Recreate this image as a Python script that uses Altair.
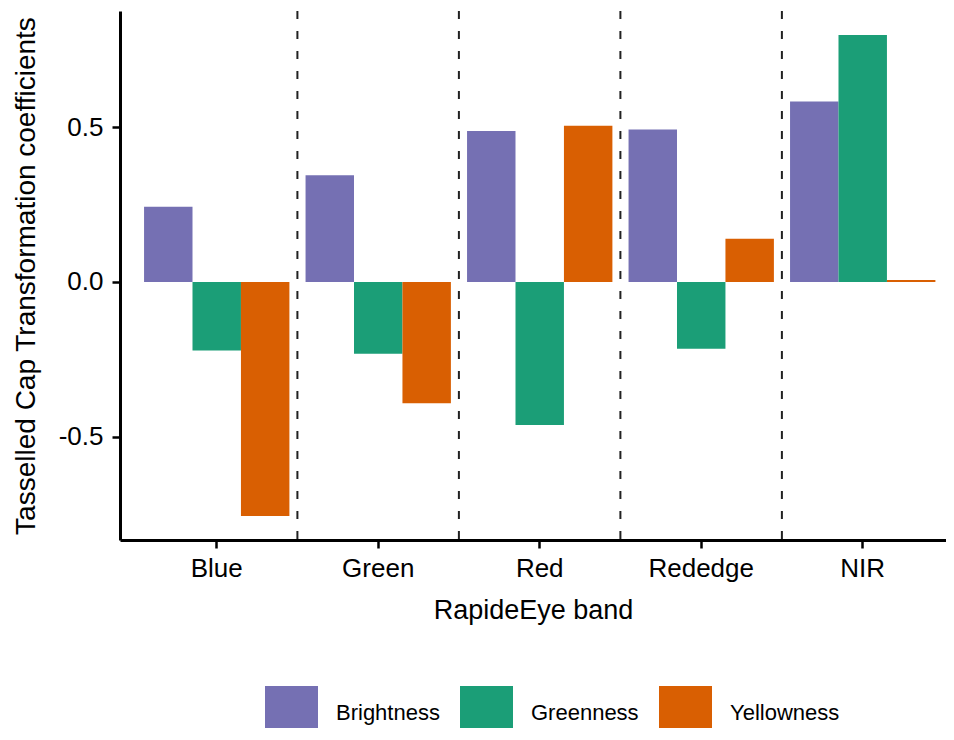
import altair as alt
import pandas as pd

bands = ["Blue", "Green", "Red", "Rededge", "NIR"]
components = ["Brightness", "Greenness", "Yellowness"]
brightness = [0.2435, 0.3448, 0.4881, 0.4930, 0.5835]
greenness = [-0.2216, -0.2319, -0.4622, -0.2154, 0.7981]
yellowness = [-0.7564, -0.3916, 0.5049, 0.1400, 0.0064]
colors = ["#7570B3", "#1B9E77", "#D95F02"]
y_ticks = [-0.5, 0.0, 0.5]
boundary_bands = ["Blue", "Green", "Red", "Rededge"]

rows = []
for comp, vals in zip(components, [brightness, greenness, yellowness]):
    for b, v in zip(bands, vals):
        rows.append({"band": b, "component": comp, "value": v})
df = pd.DataFrame(rows)
rules_df = pd.DataFrame({"band": boundary_bands})

FONT = "Liberation Sans"

xscale = alt.Scale(domain=bands, paddingInner=0.1, paddingOuter=0.1073, align=0.694)
xaxis = alt.Axis(title="RapideEye band", labelAngle=0, labelFontSize=26,
                 titleFontSize=27, labelPadding=7, titlePadding=16,
                 bandPosition=0.5, labelAlign="center",
                 tickSize=8, tickWidth=2.5, tickColor="black",
                 domainWidth=3, domainColor="black", labelColor="black",
                 titleColor="black", titleFontWeight="normal",
                 labelFont=FONT, titleFont=FONT)

bars = alt.Chart(df).mark_bar(strokeWidth=0).encode(
    x=alt.X("band:N", scale=xscale, sort=bands, axis=xaxis),
    xOffset=alt.XOffset("component:N", sort=components,
                        scale=alt.Scale(paddingInner=0, paddingOuter=0)),
    y=alt.Y("value:Q", scale=alt.Scale(domain=[-0.834, 0.876], nice=False, zero=False),
            axis=alt.Axis(title="Tasselled Cap Transformation coefficients", values=y_ticks,
                          labelExpr="replace(format(datum.value, '.1f'), '\u2212', '-')",
                          labelFontSize=26, titleFontSize=28, labelPadding=9,
                          titlePadding=18, tickSize=8, tickWidth=2.5,
                          tickColor="black", domainWidth=3, domainColor="black",
                          labelColor="black", titleColor="black",
                          titleFontWeight="normal", grid=False,
                          labelFont=FONT, titleFont=FONT)),
    color=alt.Color("component:N", sort=components,
                    scale=alt.Scale(domain=components, range=colors),
                    legend=alt.Legend(title=None, orient="none", legendX=145, legendY=675,
                                      direction="horizontal", symbolType="square",
                                      symbolSize=2809, symbolStrokeWidth=0,
                                      symbolOpacity=1, labelFontSize=22, labelFont=FONT,
                                      labelColor="black", labelOffset=18,
                                      columnPadding=20, padding=0)),
)

rules = alt.Chart(rules_df).mark_rule(color="#222222", strokeWidth=2, xOffset=8,
                                      strokeDash=[8, 12]).encode(
    x=alt.X("band:N", scale=xscale, sort=bands, bandPosition=1, axis=xaxis)
)

chart = alt.layer(bars, rules).properties(
    width=826, height=529,
    background="white",
    autosize=alt.AutoSizeParams(type="none"),
    padding={"left": 112, "top": 3, "right": 0, "bottom": 188},
).configure_view(stroke=None, strokeWidth=0)

chart.save("out.html", embed_options={"renderer": "svg", "actions": False})
